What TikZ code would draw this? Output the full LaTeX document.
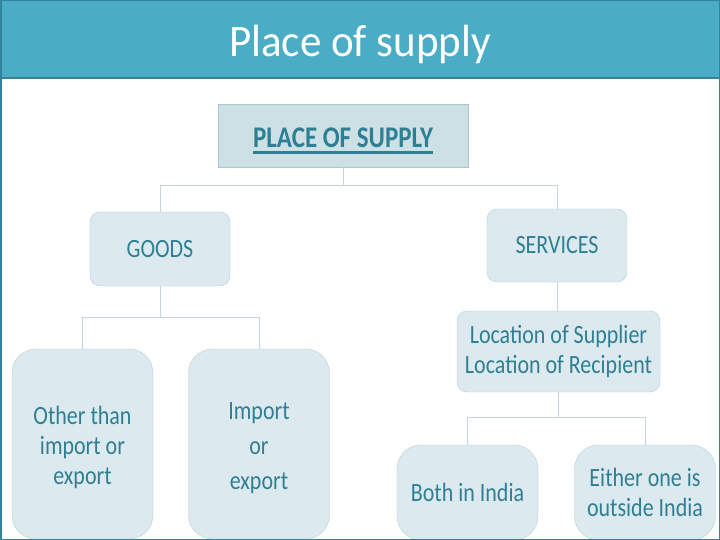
\documentclass[tikz,border=0pt]{standalone}
\usepackage{fontspec}
\usepackage{graphicx}
\setmainfont{Carlito}
\newcommand{\fatline}[1]{\setbox0\hbox{#1}\rlap{\usebox0}\rule[-5pt]{\wd0}{2.6pt}}
\newcommand{\tall}[1]{\scalebox{1}[1.2]{#1}}
\definecolor{barblue}{HTML}{4BACC6}
\definecolor{framebl}{HTML}{31849B}
\definecolor{inkbl}{HTML}{2F7F94}
\definecolor{boxfill}{HTML}{DCEAEF}
\definecolor{boxline}{HTML}{B4CFD8}
\definecolor{headfill}{HTML}{CCE0E6}
\definecolor{headline}{HTML}{A8C6CF}
\definecolor{wire}{HTML}{C2D6DC}
\tikzset{
  catbox/.style={draw=boxline, fill=boxfill, rounded corners=10pt, text=inkbl,
    align=center, font=\fontsize{22}{30}\selectfont, inner sep=0pt},
  leafbox/.style={catbox, rounded corners=24pt, minimum width=141pt},
  wireln/.style={draw=wire, line width=0.9pt}
}
\begin{document}
\begin{tikzpicture}[x=1pt, y=-1pt]
\useasboundingbox (0,0) rectangle (720,540);
\fill[white] (0,0) rectangle (720,540);
% title bar
\fill[barblue] (0,0) rectangle (720,78);
\node[text=white, font=\fontsize{43}{50}\selectfont] (title) at (360,44) {\scalebox{1}[1.05]{Place of supply}};

% head
\node[draw=headline, fill=headfill, minimum width=250pt, minimum height=63pt,
  text height=27pt, text depth=2pt,
  text=inkbl, font=\fontsize{25}{30}\bfseries\selectfont] (pos) at (343,135.5)
  {\tall{\fatline{PLACE OF SUPPLY}}};

% goods side
\node[catbox, minimum width=140pt, minimum height=74pt] (goods) at (160,249) {\tall{GOODS}};
\node[leafbox, minimum height=190pt] (other) at (82.5,444)
  {\rule{0pt}{25pt}\tall{Other than}\\\tall{import or}\\\tall{export}};
\node[leafbox, minimum height=190pt] (impexp) at (259,444)
  {\rule{0pt}{25pt}\tall{Import}\\[5pt]\tall{or}\\[5pt]\tall{export}};

% services side
\node[catbox, minimum width=140pt, minimum height=73pt] (serv) at (557,245.5) {\tall{SERVICES}};
\node[catbox, minimum width=203pt, minimum height=81pt] (loc) at (558.5,351.5)
  {\tall{Location of Supplier}\\\tall{Location of Recipient}};
\node[leafbox, minimum height=95pt] (both) at (467.5,492.5) {\tall{Both in India}};
\node[leafbox, minimum height=95pt] (either) at (645,492.5) {\tall{Either one is}\\\tall{outside India}};

% connectors
\coordinate (topbus) at (0,185);
\coordinate (goodsbus) at (0,317);
\coordinate (locbus) at (0,417);
\draw[wireln] (pos.south) -- (pos.south |- topbus);
\draw[wireln] (goods.north) -- (goods.north |- topbus) -- (serv.north |- topbus) -- (serv.north);
\draw[wireln] (goods.south) -- (goods.south |- goodsbus);
\draw[wireln] (other.north) -- (other.north |- goodsbus) -- (impexp.north |- goodsbus) -- (impexp.north);
\draw[wireln] (serv.south) -- (serv.south |- loc.north);
\draw[wireln] (loc.south) -- (loc.south |- locbus);
\draw[wireln] (both.north) -- (both.north |- locbus) -- (either.north |- locbus) -- (either.north);

% frame
\draw[framebl, line width=2.5pt] (0,78) -- (720,78);
\draw[framebl, line width=3pt] (0,0) rectangle (720,540);
\end{tikzpicture}
\end{document}
